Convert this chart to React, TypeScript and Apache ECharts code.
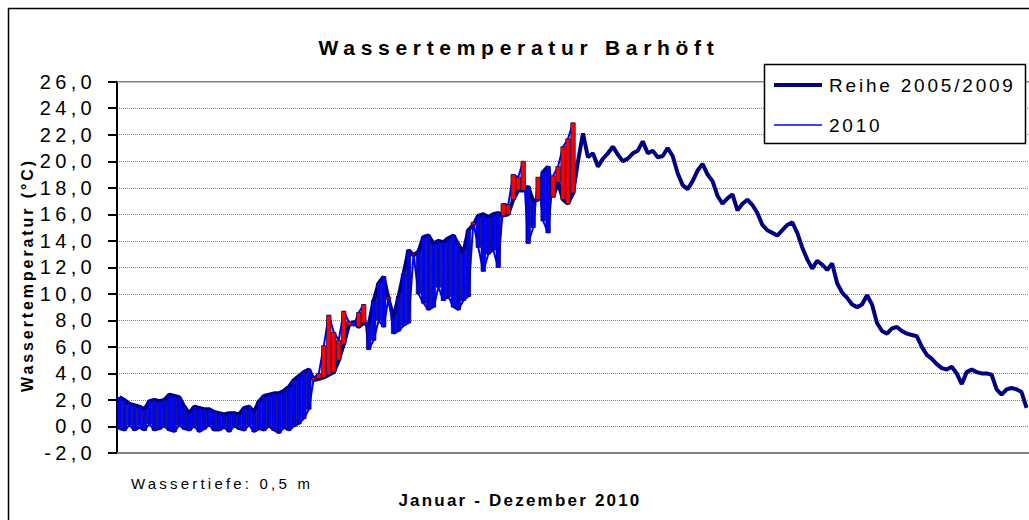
import React, { useEffect, useRef } from 'react';
import * as echarts from 'echarts';

const FONT = '"Liberation Sans", Arial, sans-serif';

// one category per two days of the year 2010
const days: string[] = Array.from({ length: 183 }, (_, i) => String(2 * i + 1));

// Reihe 2005/2009 (mean series)
const ref2005_2009: number[] = [
  2.2, 2.0, 1.7, 1.6, 1.5, 1.3, 1.9, 2.0, 1.9, 2.0,
  2.4, 2.3, 2.2, 1.5, 1.0, 1.5, 1.4, 1.3, 1.3, 1.1,
  1.0, 0.9, 1.0, 1.0, 0.9, 1.4, 1.5, 1.1, 1.9, 2.3,
  2.4, 2.5, 2.5, 2.7, 3.0, 3.5, 3.8, 4.1, 4.3, 3.5,
  3.6, 3.7, 3.9, 4.1, 5.0, 6.2, 7.6, 7.9, 7.5, 7.8,
  7.6, 9.5, 10.8, 11.3, 9.6, 8.2, 9.8, 11.5, 13.3, 12.9,
  13.2, 14.3, 14.4, 13.8, 14.0, 13.9, 14.2, 14.4, 13.7, 13.1,
  14.8, 15.2, 15.9, 16.0, 15.8, 16.0, 16.1, 15.9, 16.0, 17.1,
  17.8, 17.8, 18.1, 17.0, 17.1, 19.2, 19.6, 17.3, 18.4, 17.1,
  16.8, 17.6, 20.0, 22.1, 20.3, 20.6, 19.6, 20.2, 20.6, 21.1,
  20.5, 20.0, 20.2, 20.6, 20.8, 21.5, 20.6, 20.8, 20.3, 20.4,
  21.0, 20.4, 19.1, 18.2, 17.9, 18.5, 19.3, 19.8, 19.0, 18.5,
  17.4, 16.8, 17.2, 17.5, 16.3, 16.8, 17.1, 16.7, 16.1, 15.2,
  14.8, 14.6, 14.4, 14.8, 15.2, 15.4, 14.6, 13.5, 12.6, 11.9,
  12.5, 12.2, 11.8, 12.3, 10.8, 10.1, 9.7, 9.2, 9.0, 9.2,
  9.9, 9.2, 7.8, 7.2, 7.0, 7.4, 7.5, 7.2, 7.0, 6.9,
  6.8, 6.0, 5.4, 5.1, 4.7, 4.4, 4.3, 4.5, 4.0, 3.2,
  4.1, 4.3, 4.1, 4.0, 4.0, 3.9, 2.8, 2.4, 2.8, 2.9,
  2.8, 2.6, 1.4,
];

// 2010 measurements (January to early July)
const temp2010: number[] = [
  -0.2, -0.3, 0.1, -0.3, -0.1, -0.3, 0.2, -0.3, -0.2, 0.0,
  -0.3, -0.4, 0.1, -0.2, -0.3, 0.0, -0.4, -0.2, 0.1, -0.3,
  -0.3, -0.1, -0.4, 0.0, -0.2, -0.3, 0.1, -0.4, -0.2, -0.3,
  0.0, -0.3, -0.5, -0.1, -0.3, 0.0, 0.2, 0.6, 1.3, 3.7,
  4.0, 6.1, 8.4, 7.1, 6.5, 8.7, 7.9, 7.6, 8.6, 9.2,
  5.8, 6.5, 8.0, 7.5, 9.75, 7.0, 7.2, 7.6, 7.8, 13.0,
  10.0, 9.3, 8.8, 9.0, 10.5, 9.5, 9.8, 9.0, 8.8, 9.5,
  9.8, 15.4, 13.5, 11.7, 13.0, 13.3, 12.0, 16.8, 16.7, 19.0,
  18.8, 20.0, 13.8, 15.0, 18.8, 15.5, 14.6, 18.9, 19.6, 21.1,
  21.7, 22.9,
];

const css = `
text[style*="21px"] { letter-spacing: 5.7px; }
text[style*="20px"] { letter-spacing: 4.3px; }
text[style*="19px"] { letter-spacing: 2.8px; }
text[style*="17px"] { letter-spacing: 2.2px; }
text[style*="16px"] { letter-spacing: 2.9px; }
text[style*="15px"] { letter-spacing: 3.2px; }
`;

export default function App() {
  const divRef = useRef<HTMLDivElement>(null);

  useEffect(() => {
    if (!divRef.current) return;
    const chart = echarts.init(divRef.current, null, { renderer: 'svg' });
    const barData = temp2010.map((v, i) => [i, ref2005_2009[i], v]);

    const renderItem = (params: any, api: any) => {
      const i = api.value(0);
      const a = api.value(1);
      const b = api.value(2);
      const p1 = api.coord([i, a]);
      const p2 = api.coord([i, b]);
      const w = api.size([1, 0])[0] * 0.9;
      const top = Math.min(p1[1], p2[1]);
      const h = Math.max(Math.abs(p1[1] - p2[1]), 1.2);
      return {
        type: 'rect',
        shape: { x: p1[0] - w / 2, y: top, width: w, height: h },
        style: { fill: b > a ? '#FF0000' : '#0000FF', stroke: '#000050', lineWidth: 0.7 },
      };
    };

    chart.setOption({
      animation: false,
      backgroundColor: '#ffffff',
      title: {
        text: 'Wassertemperatur Barhöft',
        left: 519,
        top: 37,
        textAlign: 'center',
        padding: 0,
        textStyle: { fontSize: 21, fontWeight: 'bold', color: '#000', fontFamily: FONT },
      },
      grid: { left: 117, right: 0, top: 81.7, bottom: 67, containLabel: false },
      xAxis: {
        type: 'category',
        data: days,
        boundaryGap: true,
        axisLine: { onZero: false, lineStyle: { color: '#808080', width: 2 } },
        axisTick: { show: false },
        axisLabel: { show: false },
        splitLine: { show: false },
      },
      yAxis: {
        type: 'value',
        min: -2,
        max: 26,
        interval: 2,
        axisLine: { show: true, lineStyle: { color: '#000', width: 2 } },
        axisTick: { show: true, length: 9, lineStyle: { color: '#000', width: 2 } },
        axisLabel: {
          formatter: (v: number) => v.toFixed(1).replace('.', ','),
          fontSize: 20,
          color: '#000',
          margin: 21,
          fontFamily: FONT,
        },
        splitLine: { show: true, lineStyle: { type: 'dotted', color: '#808080', width: 1 } },
      },
      series: [
        {
          name: 'Reihe 2005/2009',
          type: 'line',
          data: ref2005_2009,
          symbol: 'none',
          lineStyle: { color: '#000080', width: 4 },
          z: 2,
        },
        {
          name: '2010',
          type: 'line',
          data: temp2010,
          symbol: 'none',
          lineStyle: { color: '#0000FF', width: 2 },
          z: 3,
        },
        {
          type: 'custom',
          name: 'Abweichung',
          renderItem,
          data: barData,
          encode: { x: 0, y: [1, 2] },
          z: 4,
        },
      ],
      graphic: [
        {
          type: 'polyline',
          z: 50,
          shape: { points: [[8.5, 520], [8.5, 8.5], [1029, 8.5]] },
          style: { stroke: '#000', lineWidth: 1.5, fill: 'none' },
        },
        {
          type: 'line',
          z: 1,
          shape: { x1: 117, y1: 81.7, x2: 1029, y2: 81.7 },
          style: { stroke: '#808080', lineWidth: 1.5 },
        },
        {
          type: 'rect',
          z: 100,
          shape: { x: 764.5, y: 64.5, width: 261, height: 79 },
          style: { fill: '#ffffff', stroke: '#000', lineWidth: 1.5 },
        },
        {
          type: 'line',
          z: 101,
          shape: { x1: 774, y1: 85, x2: 822, y2: 85 },
          style: { stroke: '#000080', lineWidth: 4 },
        },
        {
          type: 'text',
          z: 101,
          x: 829,
          y: 85,
          style: { text: 'Reihe 2005/2009', fontSize: 19, fontFamily: FONT, fill: '#000', textVerticalAlign: 'middle', textAlign: 'left' },
        },
        {
          type: 'line',
          z: 101,
          shape: { x1: 774, y1: 125, x2: 822, y2: 125 },
          style: { stroke: '#0000FF', lineWidth: 1.5 },
        },
        {
          type: 'text',
          z: 101,
          x: 829,
          y: 125,
          style: { text: '2010', fontSize: 19, fontFamily: FONT, fill: '#000', textVerticalAlign: 'middle', textAlign: 'left' },
        },
        {
          type: 'text',
          z: 101,
          x: 131,
          y: 483,
          style: { text: 'Wassertiefe: 0,5 m', fontSize: 15, fontFamily: FONT, fill: '#000', textVerticalAlign: 'middle', textAlign: 'left' },
        },
        {
          type: 'text',
          z: 101,
          x: 520,
          y: 500,
          style: { text: 'Januar - Dezember 2010', fontSize: 17, fontWeight: 'bold', fontFamily: FONT, fill: '#000', textVerticalAlign: 'middle', textAlign: 'center' },
        },
        {
          type: 'text',
          z: 101,
          x: 27,
          y: 275,
          rotation: Math.PI / 2,
          style: { text: 'Wassertemperatur (°C)', fontSize: 16, fontWeight: 'bold', fontFamily: FONT, fill: '#000', textVerticalAlign: 'middle', textAlign: 'center' },
        },
      ],
    });

    return () => chart.dispose();
  }, []);

  return (
    <>
      <style>{css}</style>
      <div
        ref={divRef}
        style={{ position: 'absolute', left: 0, top: 0, width: 1029, height: 520, background: '#fff' }}
      />
    </>
  );
}
